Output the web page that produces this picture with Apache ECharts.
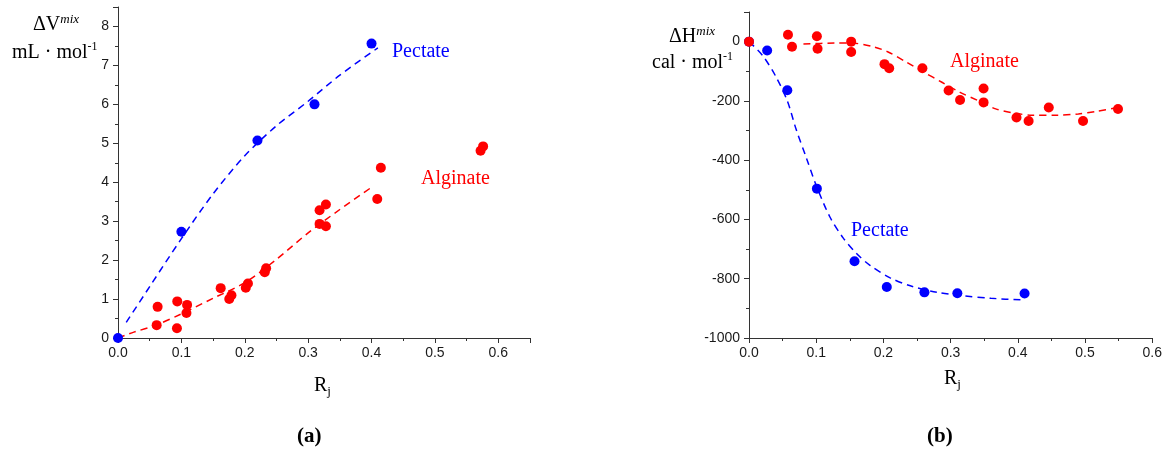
<!DOCTYPE html>
<html>
<head>
<meta charset="utf-8">
<title>Mixing volume and enthalpy</title>
<script src="https://cdn.jsdelivr.net/npm/echarts@6/dist/echarts.min.js"></script>
<style>
  html, body { margin: 0; padding: 0; background: #fff; }
  #chart { width: 1165px; height: 452px; }
</style>
</head>
<body>
<div id="chart"></div>
<script>
// (a) volume of mixing, mL/mol
const volPectateX = [0, 0.1, 0.22, 0.31, 0.4]
const volPectateY = [0, 2.73, 5.07, 6.0, 7.56]
const volAlginateX = [0.061, 0.0625, 0.093, 0.0935, 0.108, 0.109, 0.162, 0.1755, 0.179, 0.2016, 0.205,
  0.2315, 0.2337, 0.318, 0.318, 0.328, 0.328, 0.409, 0.4147, 0.572, 0.576]
const volAlginateY = [0.33, 0.80, 0.25, 0.94, 0.64, 0.85, 1.28, 1.00, 1.10, 1.29, 1.40,
  1.69, 1.79, 2.93, 3.28, 2.87, 3.43, 3.57, 4.37, 4.81, 4.92]
// dashed fit curves
const volPectateFitX = [0.013, 0.05, 0.1, 0.15, 0.2, 0.25, 0.3, 0.35, 0.41]
const volPectateFitY = [0.4, 1.32, 2.55, 3.7, 4.68, 5.45, 6.08, 6.75, 7.45]
const volAlginateFitX = [0, 0.025, 0.06, 0.1, 0.15, 0.2, 0.25, 0.3, 0.35, 0.4]
const volAlginateFitY = [0, 0.15, 0.33, 0.62, 1.02, 1.42, 2.02, 2.7, 3.3, 3.87]

// (b) enthalpy of mixing, cal/mol
const entPectateX = [0, 0.027, 0.057, 0.101, 0.157, 0.205, 0.261, 0.31, 0.41]
const entPectateY = [0, -30, -164, -496, -741, -828, -846, -849, -850]
const entAlginateX = [0, 0.058, 0.064, 0.101, 0.102, 0.152, 0.152, 0.2016, 0.2086, 0.258, 0.297,
  0.314, 0.349, 0.349, 0.398, 0.416, 0.446, 0.497, 0.549]
const entAlginateY = [0, 23, -17, 18, -24, 0, -35, -76, -90, -90, -165,
  -197, -158, -205, -256, -268, -222, -268, -227]
const entPectateFitX = [0, 0.02, 0.04, 0.057, 0.07, 0.085, 0.1, 0.12, 0.14, 0.16, 0.18, 0.21, 0.24, 0.28, 0.32, 0.36, 0.41]
const entPectateFitY = [0, -46, -118, -200, -295, -390, -485, -590, -662, -715, -755, -797, -824, -846, -858, -866, -872]
const entAlginateFitX = [0.081, 0.127, 0.153, 0.186, 0.207, 0.234, 0.26, 0.287, 0.314, 0.341, 0.367, 0.394, 0.421, 0.458, 0.49, 0.517, 0.549]
const entAlginateFitY = [-8, -5, -5, -18, -35, -69, -103, -137, -171, -199, -227, -241, -248, -248, -244, -235, -222]

const BLUE = '#0000ff'
const RED = '#ff0000'
const SERIF = 'Liberation Serif'
const SANS = 'Liberation Sans'

function zip(xs, ys) {
  return xs.map((x, i) => [x, ys[i]])
}

function valueAxis(grid, min, max, interval, fmt, isX, showMax) {
  return {
    type: 'value',
    gridIndex: grid,
    min: min,
    max: max,
    interval: interval,
    axisLine: { show: true, onZero: false, lineStyle: { color: '#333', width: 1 } },
    axisTick: { show: true, length: 5, lineStyle: { color: '#333' } },
    minorTick: { show: true, splitNumber: 2, length: 3, lineStyle: { color: '#333' } },
    splitLine: { show: false },
    axisLabel: {
      fontFamily: SANS,
      fontSize: 14,
      color: '#1a1a1a',
      margin: isX ? 8 : 9,
      showMaxLabel: !!showMax,
      formatter: fmt
    }
  }
}

function dots(name, color, x, y, xi) {
  return {
    name: name,
    type: 'scatter',
    xAxisIndex: xi,
    yAxisIndex: xi,
    symbol: 'circle',
    symbolSize: 10,
    itemStyle: { color: color, opacity: 1 },
    data: zip(x, y),
    z: 3
  }
}

function fit(name, color, x, y, xi) {
  return {
    name: name,
    type: 'line',
    xAxisIndex: xi,
    yAxisIndex: xi,
    showSymbol: false,
    smooth: 0.3,
    lineStyle: { color: color, width: 1.5, type: [7, 5] },
    data: zip(x, y),
    z: 2
  }
}

// rich styles for serif labels with super/subscripts
const rich = {
  b: { fontFamily: SERIF, fontSize: 20, lineHeight: 24, color: '#000' },
  bi: { fontFamily: SERIF, fontSize: 21, lineHeight: 24, color: '#000', fontWeight: 'bold' },
  sup: { fontFamily: SERIF, fontSize: 12, lineHeight: 12, verticalAlign: 'top', color: '#000' },
  supi: { fontFamily: SERIF, fontSize: 13, fontStyle: 'italic', lineHeight: 12, verticalAlign: 'top', color: '#000' },
  sub: { fontFamily: SERIF, fontSize: 13, lineHeight: 12, verticalAlign: 'bottom', color: '#000' }
}

function label(text, left, top, color) {
  return {
    text: text,
    left: left,
    top: top,
    padding: 0,
    textStyle: { fontFamily: SERIF, fontSize: 20, fontWeight: 'normal', color: color || '#000', rich: rich }
  }
}

const chart = echarts.init(document.getElementById('chart'))
chart.setOption({
  backgroundColor: '#fff',
  animation: false,
  title: [
    label('{b|ΔV}{supi|mix}', 33, 13),
    label('{b|mL · mol}{sup|-1}', 12, 41),
    label('{b|ΔH}{supi|mix}', 669, 25),
    label('{b|cal · mol}{sup|-1}', 652, 51),
    label('Pectate', 392, 42, BLUE),
    label('Alginate', 421, 169, RED),
    label('Alginate', 950, 52, RED),
    label('Pectate', 851, 221, BLUE),
    label('{b|R}{sub|j}', 314, 374),
    label('{b|R}{sub|j}', 944, 367),
    label('{bi|(a)}', 297, 425),
    label('{bi|(b)}', 927, 425)
  ],
  grid: [
    { left: 118, top: 7, width: 412, height: 331 },
    { left: 749, top: 12, width: 404, height: 326 }
  ],
  xAxis: [
    valueAxis(0, 0, 0.65, 0.1, v => v.toFixed(1), true, false),
    valueAxis(1, 0, 0.6, 0.1, v => v.toFixed(1), true, true)
  ],
  yAxis: [
    valueAxis(0, 0, 8.5, 1, v => String(v), false, false),
    valueAxis(1, -1000, 100, 200, v => String(v), false, false)
  ],
  series: [
    fit('Alginate fit', RED, volAlginateFitX, volAlginateFitY, 0),
    fit('Pectate fit', BLUE, volPectateFitX, volPectateFitY, 0),
    dots('Alginate', RED, volAlginateX, volAlginateY, 0),
    dots('Pectate', BLUE, volPectateX, volPectateY, 0),
    fit('Alginate fit', RED, entAlginateFitX, entAlginateFitY, 1),
    fit('Pectate fit', BLUE, entPectateFitX, entPectateFitY, 1),
    dots('Pectate', BLUE, entPectateX, entPectateY, 1),
    dots('Alginate', RED, entAlginateX, entAlginateY, 1)
  ]
})
</script>
</body>
</html>
